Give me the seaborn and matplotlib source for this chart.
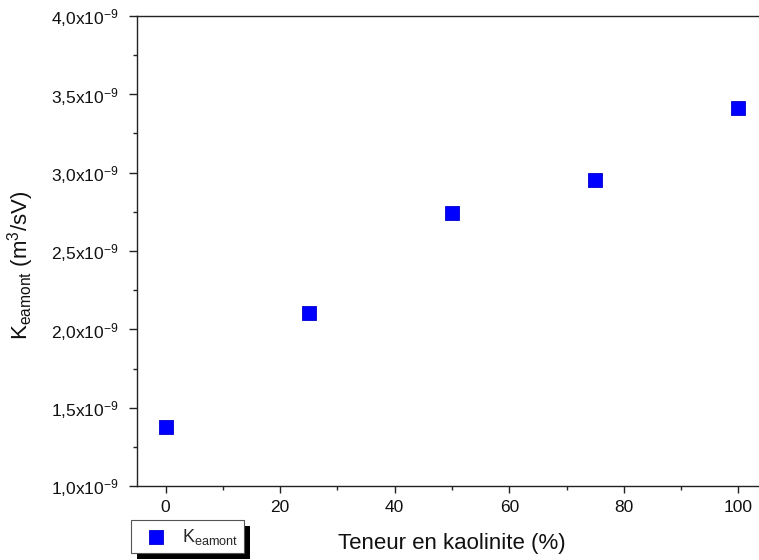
import matplotlib
matplotlib.use("Agg")
import matplotlib.pyplot as plt
import seaborn as sns
import pandas as pd
from matplotlib.ticker import FixedLocator, FuncFormatter
from matplotlib.patches import Rectangle

kaolinite = [0, 25, 50, 75, 100]
k_eamont = [1.377e-9, 2.105e-9, 2.743e-9, 2.955e-9, 3.413e-9]
series_label = "K$_{\\mathrm{eamont}}$"
x_major = [0, 20, 40, 60, 80, 100]
x_minor = [10, 30, 50, 70, 90]
y_major = [1.0e-9, 1.5e-9, 2.0e-9, 2.5e-9, 3.0e-9, 3.5e-9, 4.0e-9]
y_minor = [1.25e-9, 1.75e-9, 2.25e-9, 2.75e-9, 3.25e-9, 3.75e-9]

sns.set_theme(style="ticks")
plt.rcParams['font.family'] = ['Liberation Sans', 'DejaVu Sans']
plt.rcParams['mathtext.fontset'] = 'custom'
plt.rcParams['mathtext.rm'] = 'Liberation Sans'
plt.rcParams['mathtext.it'] = 'Liberation Sans:italic'
plt.rcParams['mathtext.bf'] = 'Liberation Sans:bold'

df = pd.DataFrame({"x": kaolinite, "y": k_eamont})

fig = plt.figure(figsize=(7.59, 5.60), dpi=100)
ax = fig.add_axes([137/759, 1-486/560, (767-137)/759, (486-16)/560])

sns.scatterplot(data=df, x="x", y="y", marker="s", s=105, color="#0000ff",
                edgecolor="#0000cc", linewidth=0.6, ax=ax, label=series_label, legend=False)

ax.set_xlim(-5, 105)
ax.set_ylim(1.0e-9, 4.0e-9)
ax.xaxis.set_major_locator(FixedLocator(x_major))
ax.xaxis.set_minor_locator(FixedLocator(x_minor))
ax.yaxis.set_major_locator(FixedLocator(y_major))
ax.yaxis.set_minor_locator(FixedLocator(y_minor))

def yfmt(v, pos):
    s = f"{v*1e9:.1f}".replace(".", ",")
    return s + "x10$^{\\mathrm{-9}}$"
ax.yaxis.set_major_formatter(FuncFormatter(yfmt))

for side in ["top", "bottom", "left"]:
    ax.spines[side].set_visible(True)
    ax.spines[side].set_linewidth(1.0)
    ax.spines[side].set_color("#222222")
ax.spines["right"].set_visible(False)

ax.tick_params(axis="x", which="major", direction="out", length=5, width=1.0,
               labelsize=12.5, colors="#222222", labelcolor="#111111", pad=5)
ax.tick_params(axis="y", which="major", direction="out", length=6, width=1.0,
               labelsize=12.5, colors="#222222", labelcolor="#111111", pad=7)
ax.tick_params(axis="both", which="minor", direction="out", length=3, width=1.0, colors="#222222")

ax.set_xlabel("Teneur en kaolinite (%)", fontsize=16, color="#111111")
ax.set_ylabel("K$_{\\mathrm{eamont}}$ (m$^{3}$/sV)", fontsize=16, color="#111111")
ax.xaxis.set_label_coords(0.5, -0.1)
ax.yaxis.set_label_coords(-0.16, 0.47)

handles, labels = ax.get_legend_handles_labels()
leg = fig.legend(handles, labels, loc="lower left",
                 bbox_to_anchor=(131/759, 1-553/560), bbox_transform=fig.transFigure,
                 fontsize=13, frameon=True, fancybox=False, framealpha=1,
                 edgecolor="#555555", borderpad=0.35, handletextpad=0.35,
                 handlelength=2.1, markerscale=1.0, borderaxespad=0)
leg.get_frame().set_linewidth(0.8)
leg.set_zorder(5)

fig.canvas.draw()
bb = leg.get_window_extent()
shadow = Rectangle((bb.x0 + 6, bb.y0 - 6), bb.width, bb.height,
                   transform=None, facecolor="black", edgecolor="none", zorder=4)
fig.patches.append(shadow)

fig.savefig("out.png", dpi=100)
